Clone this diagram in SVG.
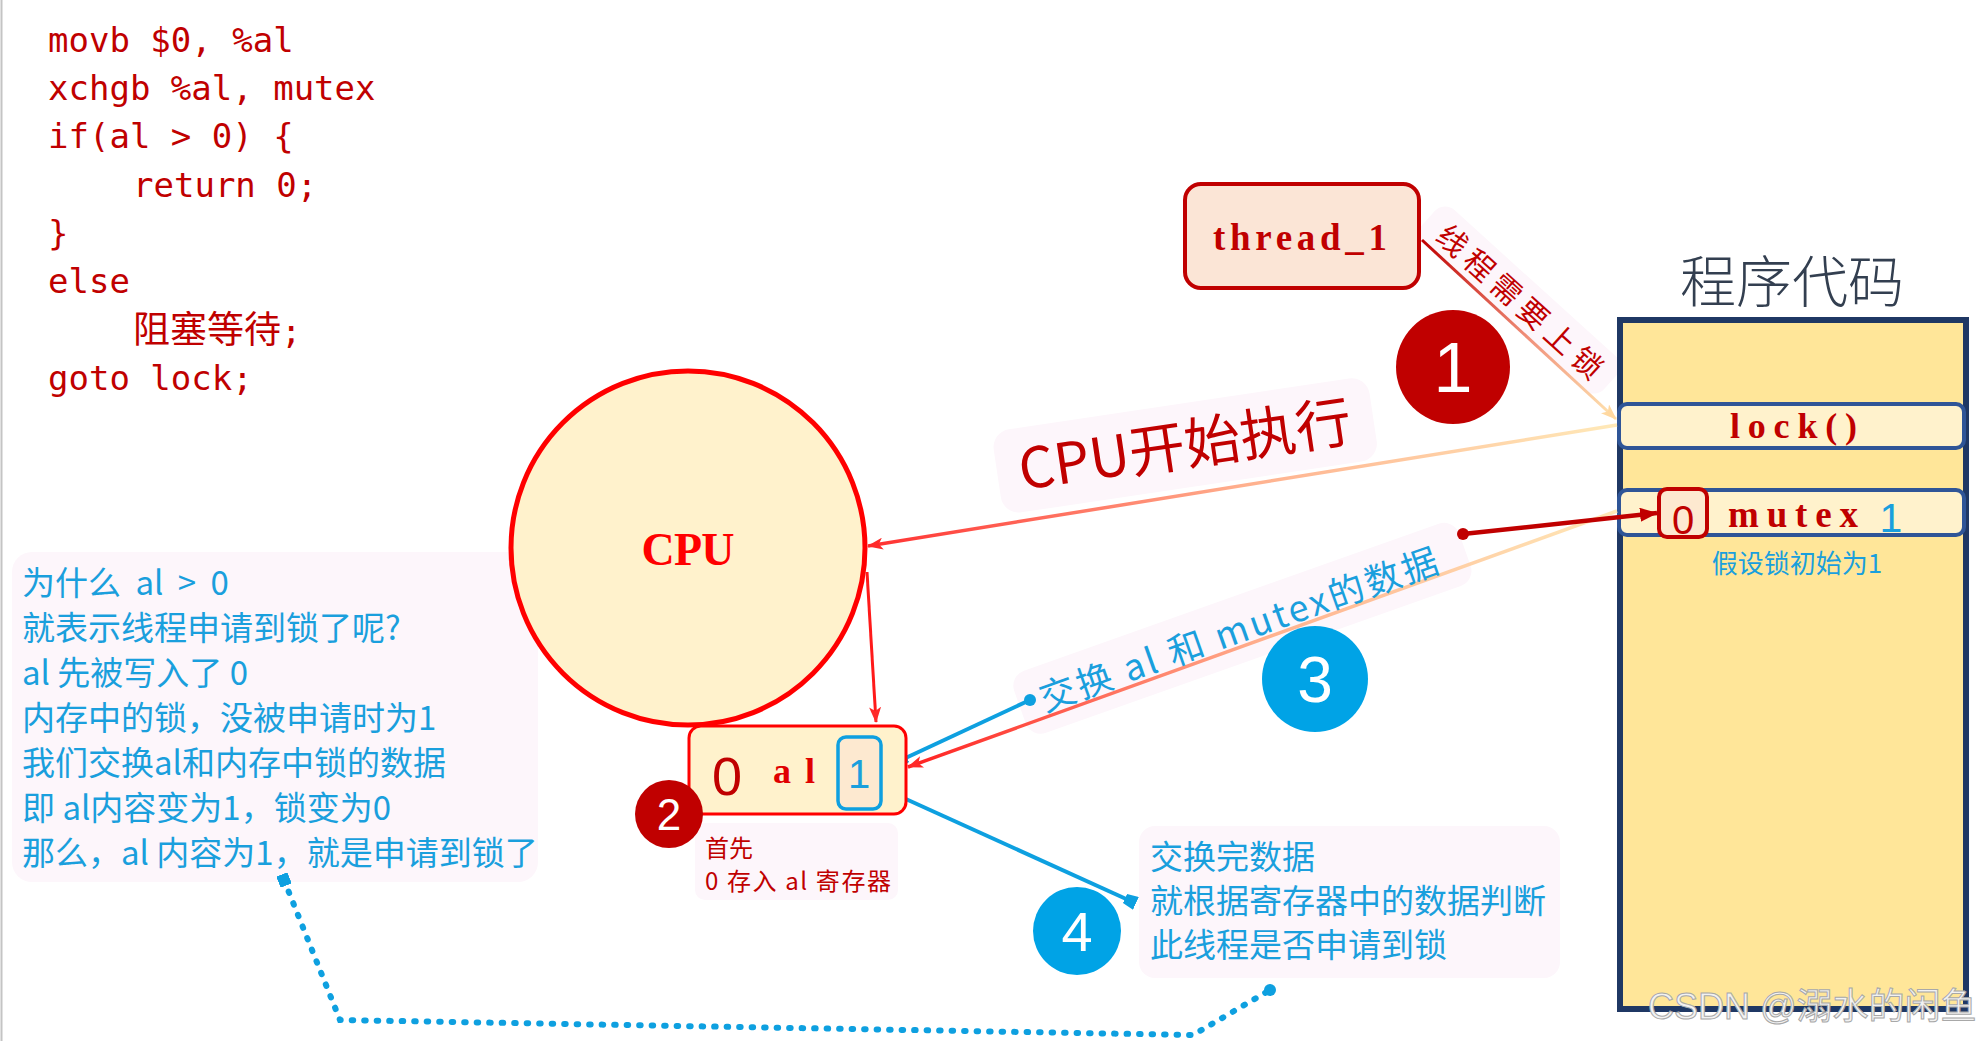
<svg xmlns="http://www.w3.org/2000/svg" width="1988" height="1041" viewBox="0 0 1988 1041">
<style>
.code{font-family:"DejaVu Sans Mono","Liberation Mono","Noto Sans CJK SC",monospace;font-size:34px;fill:#c00000}
.cjk{font-family:"Noto Sans CJK SC","Noto Sans",sans-serif}
.mono{font-family:"Liberation Serif","DejaVu Serif",serif;font-weight:bold}
.blue{fill:#1a9fdd}
.pink{fill:#fdf6fb}
.num{font-family:"Liberation Sans","Noto Sans",sans-serif;fill:#ffffff;text-anchor:middle}
</style>
<defs>
<linearGradient id="gThread" gradientUnits="userSpaceOnUse" x1="1422" y1="240" x2="1615" y2="418">
<stop offset="0" stop-color="#c00000"/><stop offset="0.55" stop-color="#f0907a"/><stop offset="1" stop-color="#ffe4b0"/></linearGradient>
<linearGradient id="gLock" gradientUnits="userSpaceOnUse" x1="1617" y1="425" x2="870" y2="546">
<stop offset="0" stop-color="#ffe9b8"/><stop offset="0.5" stop-color="#ffb08e"/><stop offset="1" stop-color="#ff3030"/></linearGradient>
<linearGradient id="gMutex" gradientUnits="userSpaceOnUse" x1="1617" y1="511" x2="908" y2="767">
<stop offset="0" stop-color="#ffe9b8"/><stop offset="0.5" stop-color="#ffb08e"/><stop offset="1" stop-color="#ff2020"/></linearGradient>
<marker id="arrRed" viewBox="0 0 16 12" refX="15" refY="6" markerWidth="16" markerHeight="12" markerUnits="userSpaceOnUse" orient="auto"><path d="M0,0 L16,6 L0,12 L4,6 z" fill="#ff2a2a"/></marker>
<marker id="arrLight" viewBox="0 0 16 12" refX="15" refY="6" markerWidth="16" markerHeight="12" markerUnits="userSpaceOnUse" orient="auto"><path d="M0,0 L16,6 L0,12 L4,6 z" fill="#ffd8a0"/></marker>
<marker id="arrDark" viewBox="0 0 18 14" refX="17" refY="7" markerWidth="18" markerHeight="14" markerUnits="userSpaceOnUse" orient="auto"><path d="M0,0 L18,7 L0,14 z" fill="#c00000"/></marker>
<marker id="dotDark" viewBox="0 0 12 12" refX="6" refY="6" markerWidth="12" markerHeight="12" markerUnits="userSpaceOnUse"><circle cx="6" cy="6" r="6" fill="#c00000"/></marker>
<marker id="sqBlue" viewBox="0 0 12 14" refX="11" refY="7" markerWidth="12" markerHeight="14" markerUnits="userSpaceOnUse" orient="auto"><path d="M0,2 L12,0 L12,14 L0,12 z" fill="#0ea0e0"/></marker>
<marker id="dotBlue" viewBox="0 0 12 12" refX="6" refY="6" markerWidth="12" markerHeight="12" markerUnits="userSpaceOnUse"><circle cx="6" cy="6" r="6" fill="#0ea0e0"/></marker>
<marker id="sqStart" viewBox="0 0 12 12" refX="6" refY="6" markerWidth="12" markerHeight="12" markerUnits="userSpaceOnUse" orient="auto"><rect x="0" y="0" width="12" height="12" fill="#0ea0e0"/></marker>
</defs>
<rect width="1988" height="1041" fill="#ffffff"/>
<line x1="1.5" y1="0" x2="1.5" y2="1041" stroke="#c4c4c4" stroke-width="2"/>

<g id="code-text">
<text class="code" x="48" y="52">movb $0, %al</text>
<text class="code" x="48" y="100">xchgb %al, mutex</text>
<text class="code" x="48" y="148">if(al &gt; 0) {</text>
<text class="code" x="133" y="197">return 0;</text>
<text class="code" x="48" y="245">}</text>
<text class="code" x="48" y="293">else</text>
<text class="code" x="133" y="343"><tspan style="font-family:'Noto Sans CJK SC',sans-serif;font-size:37px">阻塞等待</tspan>;</text>
<text class="code" x="48" y="390">goto lock;</text>
</g>

<g id="label-backgrounds">
<rect class="pink" x="12" y="552" width="526" height="330" rx="20"/>
<rect class="pink" x="695" y="823" width="203" height="77" rx="10"/>
<rect class="pink" x="1139" y="826" width="421" height="152" rx="16"/>
<rect class="pink" x="-22" y="-62" width="380" height="84" rx="18" transform="translate(1022,490) rotate(-8.5)"/>
<rect class="pink" x="-22" y="-46" width="472" height="66" rx="16" transform="translate(1045,712) rotate(-19.5)"/>
<rect class="pink" x="-10" y="-44" width="245" height="46" rx="14" transform="translate(1422,240) rotate(42.2)"/>
</g>

<g id="program-code">
<text class="cjk" x="1792" y="302" text-anchor="middle" font-size="56" font-weight="300" fill="#333f50">程序代码</text>
<rect x="1620" y="320" width="346" height="689" fill="#ffe699" stroke="#1f3864" stroke-width="6"/>
</g>
<g id="lock-row">
<rect x="1619" y="404" width="345" height="44" rx="8" fill="#fff2cc" stroke="#2f5597" stroke-width="4"/>
<text class="mono" x="1730" y="438" font-size="36" fill="#c00000" textLength="127" lengthAdjust="spacing">lock()</text>
</g>
<g id="mutex-row">
<rect x="1619" y="490" width="345" height="45" rx="8" fill="#fff2cc" stroke="#2f5597" stroke-width="4"/>
<rect x="1659" y="489" width="48" height="48" rx="8" fill="#fde9d0" stroke="#c00000" stroke-width="4"/>
<text x="1683" y="534" text-anchor="middle" font-family="Liberation Sans, sans-serif" font-size="40" fill="#c00000">0</text>
<text class="mono" x="1728" y="527" font-size="37" fill="#c00000" textLength="130" lengthAdjust="spacing">mutex</text>
<text x="1891" y="532" text-anchor="middle" font-family="Liberation Sans, sans-serif" font-size="41" fill="#1a9fdd">1</text>
<text class="cjk blue" x="1797" y="573" text-anchor="middle" font-size="26">假设锁初始为1</text>
</g>

<g id="connectors" fill="none">
<line x1="1422" y1="240" x2="1616" y2="419" stroke="url(#gThread)" stroke-width="3" marker-end="url(#arrLight)"/>
<line x1="1617" y1="425" x2="868" y2="546" stroke="url(#gLock)" stroke-width="3.5" marker-end="url(#arrRed)"/>
<line x1="1617" y1="511" x2="908" y2="767" stroke="url(#gMutex)" stroke-width="3.5" marker-end="url(#arrRed)"/>
<line x1="867" y1="572" x2="876" y2="722" stroke="#ff1a1a" stroke-width="3" marker-end="url(#arrRed)"/>
<line x1="1463" y1="534" x2="1657" y2="513" stroke="#c00000" stroke-width="4.5" marker-start="url(#dotDark)" marker-end="url(#arrDark)"/>
<line x1="1030" y1="700" x2="897" y2="762" stroke="#0ea0e0" stroke-width="4" marker-start="url(#dotBlue)" marker-end="url(#sqBlue)"/>
<line x1="897" y1="795" x2="1135" y2="903" stroke="#0ea0e0" stroke-width="4" marker-start="url(#dotBlue)" marker-end="url(#sqBlue)"/>
<path d="M284,880 L340,1020 L1193,1035 L1270,990" stroke="#0ea0e0" stroke-width="6" stroke-linecap="round" stroke-dasharray="1.5 11" marker-start="url(#sqStart)" marker-end="url(#dotBlue)"/>
</g>

<g id="thread-1">
<rect x="1185" y="184" width="234" height="104" rx="16" fill="#fbe5d6" stroke="#c00000" stroke-width="4"/>
<text class="mono" x="1213" y="250" font-size="37" fill="#c00000" textLength="174" lengthAdjust="spacing">thread_1</text>
</g>

<g id="cpu">
<circle cx="688" cy="548" r="177" fill="#fff2cc" stroke="#ff0000" stroke-width="5"/>
<text class="mono" x="688" y="565" text-anchor="middle" font-size="46" fill="#ff0000" textLength="93" lengthAdjust="spacing">CPU</text>
</g>

<g id="al-register">
<rect x="689" y="726" width="217" height="88" rx="12" fill="#fff2cc" stroke="#ff0000" stroke-width="3"/>
<text x="727" y="795" text-anchor="middle" font-family="Liberation Sans, sans-serif" font-size="54" fill="#c00000">0</text>
<text class="mono" x="773" y="783" font-size="36" fill="#e00000" textLength="42" lengthAdjust="spacing">al</text>
<rect x="838" y="737" width="43" height="72" rx="8" fill="#fde9d0" stroke="#0ea0e0" stroke-width="3.5"/>
<text x="859" y="788" text-anchor="middle" font-family="Liberation Sans, sans-serif" font-size="40" fill="#1a9fdd">1</text>
</g>

<g id="step-1"><circle cx="1453" cy="367" r="57" fill="#c00000"/><text class="num" x="1453" y="392" font-size="70">1</text></g>
<g id="step-2"><circle cx="669" cy="814" r="34" fill="#c00000"/><text class="num" x="669" y="830" font-size="44">2</text></g>
<g id="step-3"><circle cx="1315" cy="679" r="53" fill="#00a3e6"/><text class="num" x="1315" y="702" font-size="64">3</text></g>
<g id="step-4"><circle cx="1077" cy="931" r="44" fill="#00a3e6"/><text class="num" x="1077" y="951" font-size="56">4</text></g>

<g id="labels">
<text class="cjk" transform="translate(1022,490) rotate(-8.5)" x="0" y="0" font-size="56" fill="#c00000">CPU开始执行</text>
<text class="cjk blue" transform="translate(1045,712) rotate(-19.5)" x="0" y="0" font-size="36" textLength="420" lengthAdjust="spacing">交换 al 和 mutex的数据</text>
<text class="cjk" transform="translate(1422,240) rotate(42.2)" x="8" y="-9" font-size="30" letter-spacing="6.4" fill="#c00000">线程需要上锁</text>
</g>

<g id="note-left" class="cjk blue" font-size="33">
<text x="22" y="595" word-spacing="7">为什么 al &gt; 0</text>
<text x="22" y="640">就表示线程申请到锁了呢?</text>
<text x="22" y="685">al 先被写入了 0</text>
<text x="22" y="730">内存中的锁，没被申请时为1</text>
<text x="22" y="775">我们交换al和内存中锁的数据</text>
<text x="22" y="820">即 al内容变为1，锁变为0</text>
<text x="22" y="865">那么，al 内容为1，就是申请到锁了</text>
</g>

<g id="note-first" class="cjk" font-size="24" fill="#c00000">
<text x="705" y="857">首先</text>
<text x="705" y="890" textLength="186" lengthAdjust="spacing">0 存入 al 寄存器</text>
</g>

<g id="note-after" class="cjk blue" font-size="33">
<text x="1150" y="869">交换完数据</text>
<text x="1150" y="913">就根据寄存器中的数据判断</text>
<text x="1150" y="957">此线程是否申请到锁</text>
</g>

<text x="1648" y="1019" font-family="Liberation Sans, 'Noto Sans CJK SC', sans-serif" font-size="36" fill="#f2f2f2" stroke="#a8a8a8" stroke-width="1">CSDN @溺水的闲鱼</text>
</svg>
